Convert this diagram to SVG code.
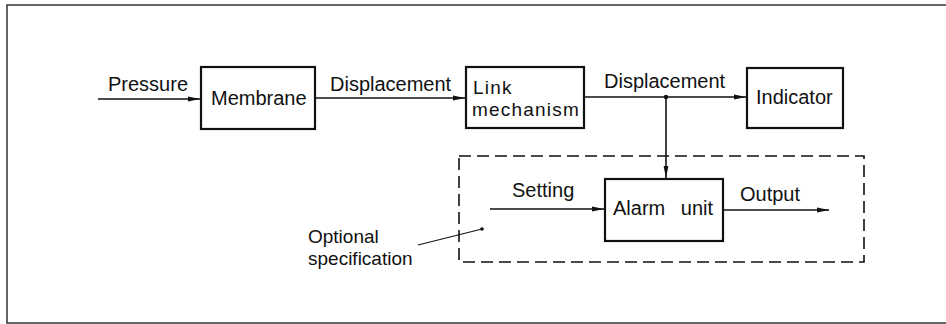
<svg xmlns="http://www.w3.org/2000/svg" width="946" height="324" viewBox="0 0 946 324">
<style>
  .bg { fill: #ffffff; }
  .frame { fill: none; stroke: #333; stroke-width: 1.5; }
  .box { fill: #ffffff; stroke: #111; stroke-width: 2.2; }
  .dash { fill: none; stroke: #111; stroke-width: 1.6; stroke-dasharray: 12 6; }
  .wire { fill: none; stroke: #111; stroke-width: 1.6; }
  .thin { fill: none; stroke: #111; stroke-width: 1.1; }
  text { font-family: "Liberation Sans", Arial, sans-serif; font-size: 20px; fill: #111; }
  .two { font-size: 19px; }
  .spaced { letter-spacing: 1.2px; }
</style>
<defs>
  <marker id="arr" viewBox="0 0 12 6" refX="12" refY="3" markerWidth="12" markerHeight="6" markerUnits="userSpaceOnUse" orient="auto">
    <path d="M0,0.6 L12,3 L0,5.4 Z" fill="#111"/>
  </marker>
</defs>
<rect class="bg" x="0" y="0" width="946" height="324"/>
<path class="frame" d="M946,5 H7 V323 H946"/>

<g id="optional-region">
  <rect class="dash" x="459" y="156" width="405" height="106"/>
  <text class="two" x="308" y="243">Optional</text>
  <text class="two" x="308" y="265">specification</text>
</g>

<g id="membrane">
  <rect class="box" x="201" y="67" width="114" height="62"/>
  <text x="211" y="105">Membrane</text>
</g>
<g id="link-mechanism">
  <rect class="box" x="466" y="67" width="118" height="61"/>
  <text class="two spaced" x="473" y="94">Link</text>
  <text class="two spaced" x="472" y="116">mechanism</text>
</g>
<g id="indicator">
  <rect class="box" x="747" y="68" width="96" height="60"/>
  <text x="756" y="104">Indicator</text>
</g>
<g id="alarm-unit">
  <rect class="box" x="605" y="179" width="118" height="62"/>
  <text x="613" y="215" style="word-spacing:10px">Alarm unit</text>
</g>

<g id="connectors">
  <line class="wire" x1="98" y1="99" x2="200" y2="99" marker-end="url(#arr)"/>
  <line class="wire" x1="315" y1="98" x2="465" y2="98" marker-end="url(#arr)"/>
  <line class="wire" x1="584" y1="97" x2="746" y2="97" marker-end="url(#arr)"/>
  <line class="wire" x1="666" y1="97" x2="666" y2="178" marker-end="url(#arr)"/>
  <circle cx="666" cy="97" r="2.2" fill="#111"/>
  <line class="wire" x1="490" y1="209" x2="604" y2="209" marker-end="url(#arr)"/>
  <line class="wire" x1="723" y1="210" x2="829" y2="210" marker-end="url(#arr)"/>
  <line class="thin" x1="418" y1="245" x2="482" y2="229"/>
  <circle cx="482" cy="229" r="1.8" fill="#111"/>
</g>

<g id="labels">
  <text x="108" y="91">Pressure</text>
  <text x="330" y="91">Displacement</text>
  <text x="604" y="88">Displacement</text>
  <text x="512" y="197">Setting</text>
  <text x="740" y="201">Output</text>
</g>
</svg>
